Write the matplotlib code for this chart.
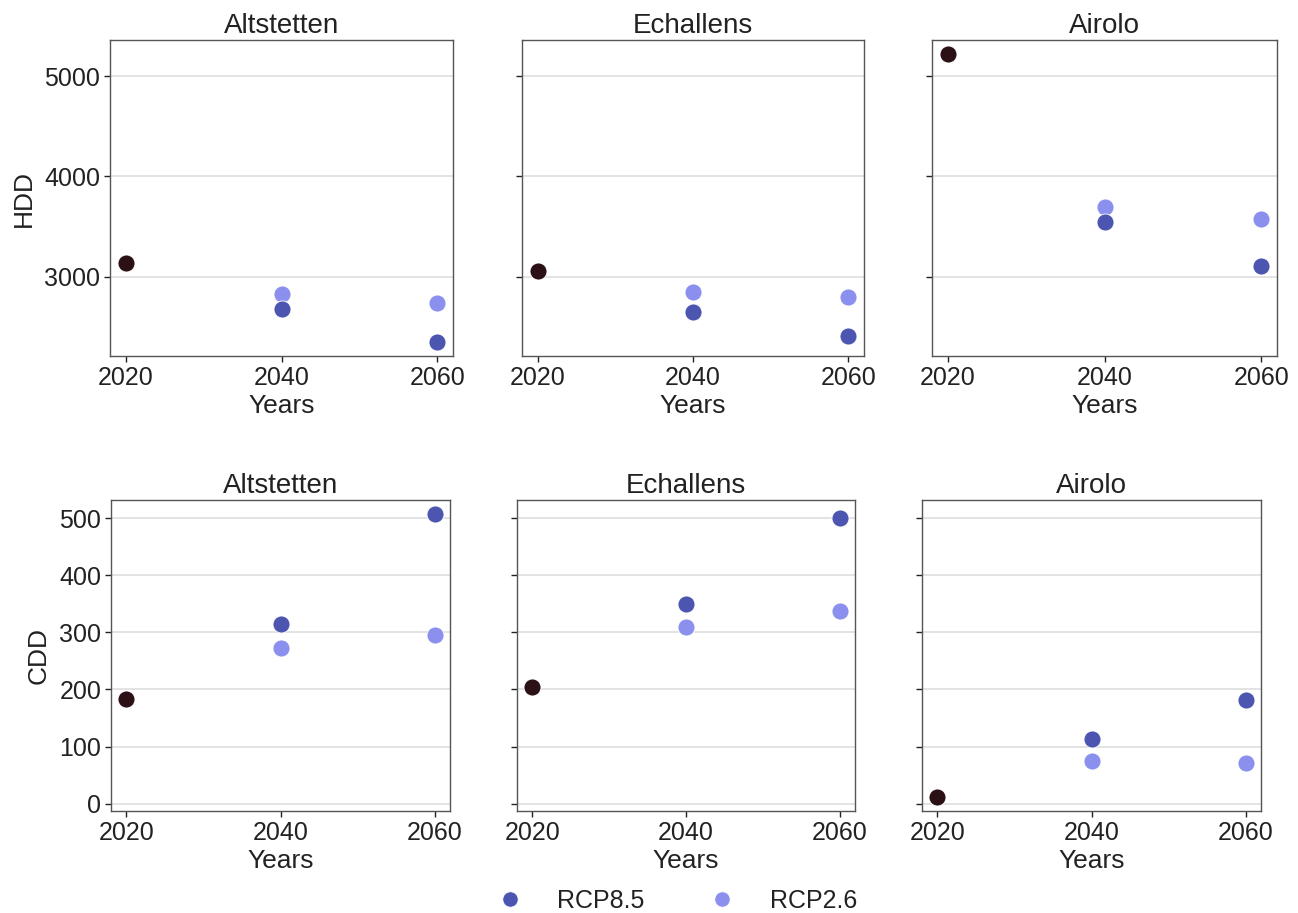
import matplotlib.pyplot as plt
from matplotlib.lines import Line2D

plt.rcParams['font.family'] = ['Liberation Sans', 'DejaVu Sans']

# Degree days per station: 2020 baseline, then 2040/2060 under two scenarios
stations = ['Altstetten', 'Echallens', 'Airolo']
years_future = [2040, 2060]

hdd_2020 = [3140, 3060, 5220]
hdd_rcp85 = [[2680, 2350], [2650, 2410], [3550, 3110]]
hdd_rcp26 = [[2830, 2740], [2850, 2800], [3700, 3580]]

cdd_2020 = [183, 204, 12]
cdd_rcp85 = [[314, 507], [349, 500], [114, 181]]
cdd_rcp26 = [[272, 295], [310, 338], [75, 72]]

hdd_ticks = [3000, 4000, 5000]
cdd_ticks = [0, 100, 200, 300, 400, 500]
xticks = [2020, 2040, 2060]

c_base = '#2b1015'
c_85 = '#4c55b0'
c_26 = '#8b90ee'

fig = plt.figure(figsize=(12.98, 9.13), dpi=100)
W, H = 1298, 913

# axes boxes in pixels: (left, top, right, bottom)
top_boxes = [(110, 40, 453, 356), (522, 40, 864, 356), (932, 40, 1277, 356)]
bot_boxes = [(111, 500, 450, 811), (517, 500, 855, 811), (922, 500, 1261, 811)]


def make_ax(box, sharey=None):
    l, t, r, b = box
    return fig.add_axes([l / W, 1 - b / H, (r - l) / W, (b - t) / H], sharey=sharey)


def draw_row(boxes, base, r85, r26, ticks, ylabel):
    axes = []
    for i, name in enumerate(stations):
        ax = make_ax(boxes[i], sharey=axes[0] if axes else None)
        ax.scatter([2020], [base[i]], s=150, color=c_base, edgecolor='white', linewidth=0.6, zorder=3)
        ax.scatter(years_future, r26[i], s=150, color=c_26, edgecolor='white', linewidth=0.6, zorder=3)
        ax.scatter(years_future, r85[i], s=150, color=c_85, edgecolor='white', linewidth=0.6, zorder=3)
        ax.set_title(name, fontsize=20, pad=5, color='#222222')
        ax.set_xticks(xticks)
        ax.set_yticks(ticks)
        ax.yaxis.grid(True, color='#dedede', linewidth=1.2)
        ax.set_axisbelow(True)
        ax.set_xlabel('Years', fontsize=19, labelpad=3, color='#222222')
        ax.tick_params(labelsize=18, length=4, width=1, colors='#222222', pad=3)
        for sp in ax.spines.values():
            sp.set_color('#555555')
            sp.set_linewidth(1)
        if i == 0:
            ax.set_ylabel(ylabel, fontsize=19, labelpad=6, color='#222222')
        else:
            ax.tick_params(labelleft=False)
        axes.append(ax)
    return axes


draw_row(top_boxes, hdd_2020, hdd_rcp85, hdd_rcp26, hdd_ticks, 'HDD')
draw_row(bot_boxes, cdd_2020, cdd_rcp85, cdd_rcp26, cdd_ticks, 'CDD')

handles = [
    Line2D([], [], marker='o', linestyle='none', markersize=11, color=c_85, markeredgecolor='white', markeredgewidth=0.5),
    Line2D([], [], marker='o', linestyle='none', markersize=11, color=c_26, markeredgecolor='white', markeredgewidth=0.5),
]
fig.legend(handles, ['RCP8.5', 'RCP2.6'], loc='center', bbox_to_anchor=(671 / W, 1 - 901 / H),
           ncol=2, frameon=False, fontsize=18, handletextpad=0.9, columnspacing=2.1,
           labelcolor='#222222')

fig.savefig('out.png', dpi=100, facecolor='white')
